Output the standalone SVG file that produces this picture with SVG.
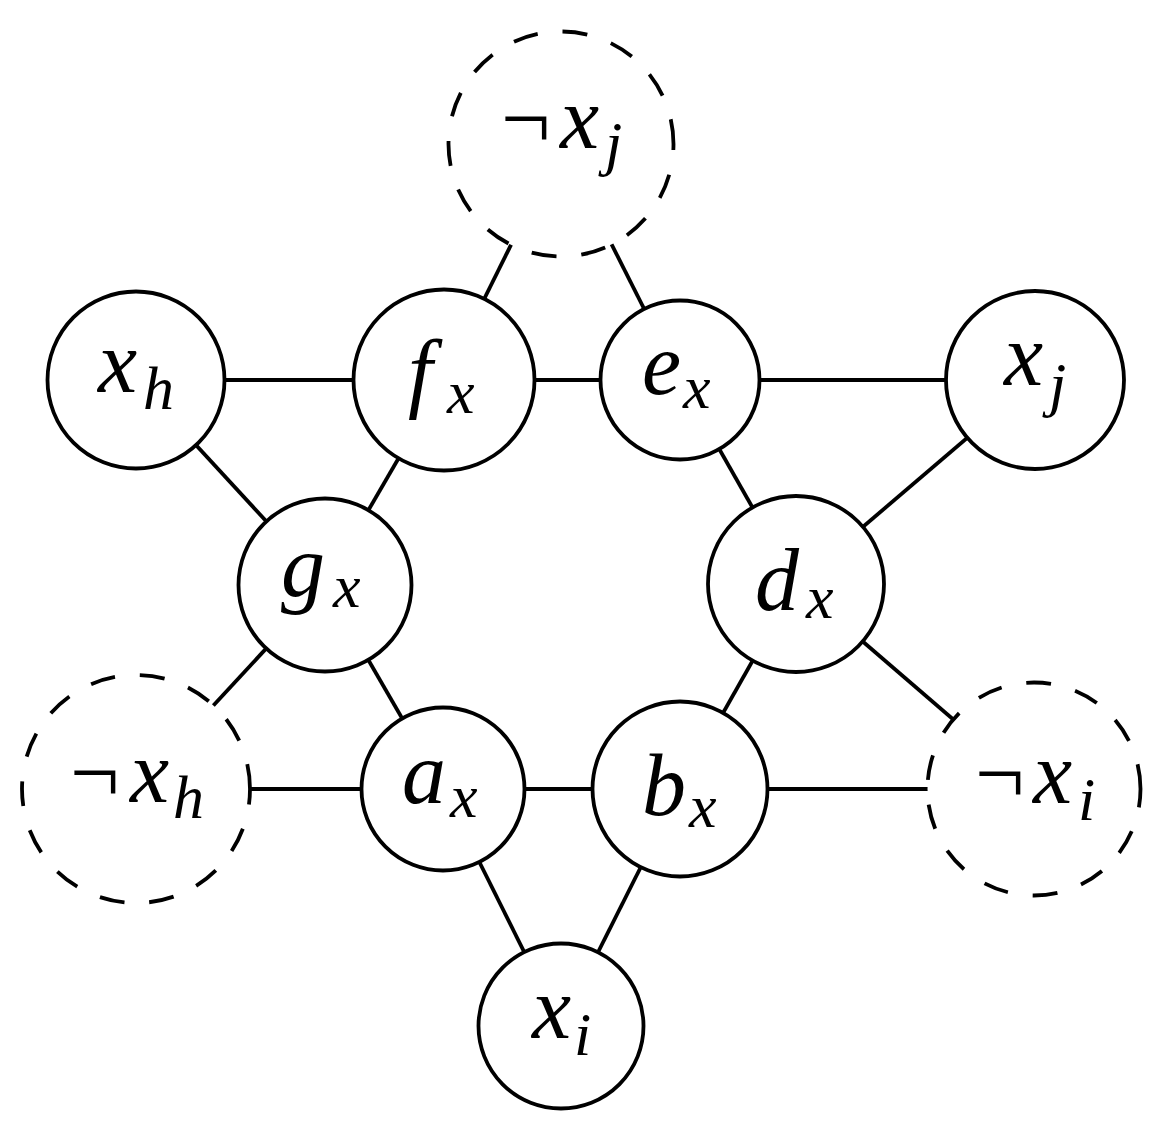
<svg xmlns="http://www.w3.org/2000/svg" width="1157" height="1135" viewBox="0 0 1157 1135">
<style>
.bg { fill: #ffffff; }
.edge { stroke: #000; stroke-width: 3.8; fill: none; }
.node { fill: #ffffff; stroke: #000; stroke-width: 3.8; }
.dnode { fill: #ffffff; stroke: #000; stroke-width: 3.8; stroke-dasharray: 25 25; }
.lbl { font-family: "Liberation Serif", "Times New Roman", serif; font-style: italic; font-size: 88px; fill: #000; }
.sub { font-size: 62px; }
.neg { font-style: normal; }
</style>
<rect class="bg" x="0" y="0" width="1157" height="1135"/>
<g id="connectors">
<line class="edge" x1="561" y1="144" x2="444" y2="380"/>
<line class="edge" x1="561" y1="144" x2="680" y2="380"/>
<line class="edge" x1="136" y1="380" x2="444" y2="380"/>
<line class="edge" x1="444" y1="380" x2="680" y2="380"/>
<line class="edge" x1="680" y1="380" x2="1035" y2="380"/>
<line class="edge" x1="136" y1="380" x2="325" y2="585"/>
<line class="edge" x1="444" y1="380" x2="325" y2="585"/>
<line class="edge" x1="680" y1="380" x2="796" y2="584"/>
<line class="edge" x1="1035" y1="380" x2="796" y2="584"/>
<line class="edge" x1="325" y1="585" x2="136" y2="789"/>
<line class="edge" x1="325" y1="585" x2="443" y2="789"/>
<line class="edge" x1="796" y1="584" x2="680" y2="789"/>
<line class="edge" x1="796" y1="584" x2="1034" y2="789"/>
<line class="edge" x1="136" y1="789" x2="443" y2="789"/>
<line class="edge" x1="443" y1="789" x2="680" y2="789"/>
<line class="edge" x1="680" y1="789" x2="1034" y2="789"/>
<line class="edge" x1="443" y1="789" x2="561" y2="1026"/>
<line class="edge" x1="680" y1="789" x2="561" y2="1026"/>
</g>
<g id="node-not-xj">
<path class="dnode" d="M673.5 144 A112.5 112.5 0 1 0 448.5 144 A112.5 112.5 0 1 0 673.5 144 Z"/>
<text class="lbl"><tspan class="neg" x="501" y="148">¬</tspan><tspan x="560" y="148">x</tspan><tspan class="sub" x="605" y="164">j</tspan></text>
</g>
<g id="node-xh">
<circle class="node" cx="136" cy="380" r="88.5"/>
<text class="lbl"><tspan x="98" y="392">x</tspan><tspan class="sub" x="143" y="409">h</tspan></text>
</g>
<g id="node-fx">
<circle class="node" cx="444" cy="380" r="90.5"/>
<text class="lbl"><tspan x="408" y="401">f</tspan><tspan class="sub" x="447" y="413">x</tspan></text>
</g>
<g id="node-ex">
<circle class="node" cx="680" cy="380" r="79.5"/>
<text class="lbl"><tspan x="642" y="394">e</tspan><tspan class="sub" x="683" y="408">x</tspan></text>
</g>
<g id="node-xj">
<circle class="node" cx="1035" cy="380" r="89"/>
<text class="lbl"><tspan x="1004" y="385">x</tspan><tspan class="sub" x="1049" y="405">j</tspan></text>
</g>
<g id="node-gx">
<circle class="node" cx="325" cy="585" r="86.5"/>
<text class="lbl"><tspan x="281" y="596">g</tspan><tspan class="sub" x="333" y="607">x</tspan></text>
</g>
<g id="node-dx">
<circle class="node" cx="796" cy="584" r="88"/>
<text class="lbl"><tspan x="755" y="610">d</tspan><tspan class="sub" x="806" y="618">x</tspan></text>
</g>
<g id="node-not-xh">
<path class="dnode" d="M250 789 A114 114 0 1 0 22 789 A114 114 0 1 0 250 789 Z"/>
<text class="lbl"><tspan class="neg" x="70" y="802">¬</tspan><tspan x="130" y="802">x</tspan><tspan class="sub" x="173" y="818">h</tspan></text>
</g>
<g id="node-ax">
<circle class="node" cx="443" cy="789" r="81.5"/>
<text class="lbl"><tspan x="402" y="803">a</tspan><tspan class="sub" x="450" y="817">x</tspan></text>
</g>
<g id="node-bx">
<circle class="node" cx="680" cy="789" r="87.5"/>
<text class="lbl"><tspan x="642" y="815">b</tspan><tspan class="sub" x="689" y="827">x</tspan></text>
</g>
<g id="node-not-xi">
<path class="dnode" d="M1140.5 789 A106.5 106.5 0 1 0 927.5 789 A106.5 106.5 0 1 0 1140.5 789 Z"/>
<text class="lbl"><tspan class="neg" x="975" y="803">¬</tspan><tspan x="1033" y="803">x</tspan><tspan class="sub" x="1078" y="820">i</tspan></text>
</g>
<g id="node-xi">
<circle class="node" cx="561" cy="1026" r="82.5"/>
<text class="lbl"><tspan x="532" y="1038">x</tspan><tspan class="sub" x="574" y="1055">i</tspan></text>
</g>
</svg>
